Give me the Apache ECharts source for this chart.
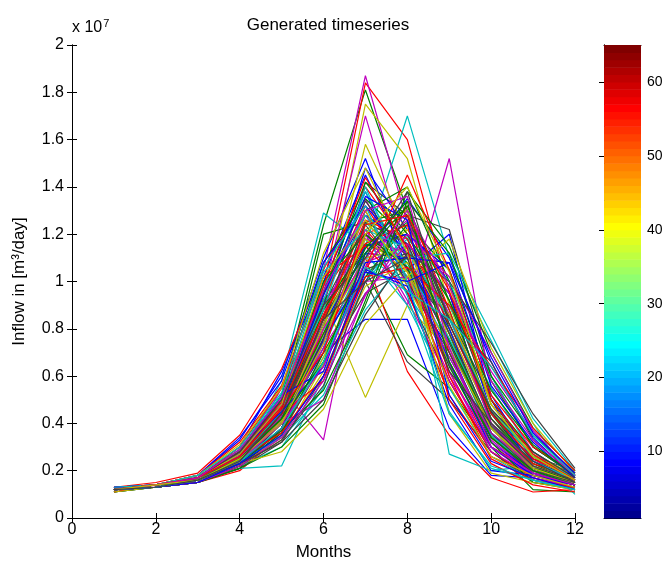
<!DOCTYPE html>
<html>
<head>
<meta charset="utf-8">
<script src="https://cdn.jsdelivr.net/npm/echarts@6/dist/echarts.min.js"></script>
<style>html,body{margin:0;padding:0;background:#fff;}#c{width:665px;height:562px;}</style>
</head>
<body>
<div id="c"></div>
<script>
// Months on the x axis
const months = [1,2,3,4,5,6,7,8,9,10,11,12];
// Inflow runs, values in units of 1e7 m3/day
const run01 = [0.12,0.14,0.17,0.30,0.62,1.02,1.45,1.10,0.75,0.38,0.24,0.15];
const run02 = [0.12,0.13,0.15,0.24,0.52,1.24,1.81,1.30,0.85,0.45,0.26,0.16];
const run03 = [0.13,0.14,0.18,0.26,0.50,0.98,1.84,1.60,0.95,0.40,0.22,0.14];
const run04 = [0.12,0.13,0.16,0.25,0.58,1.29,1.15,1.70,1.10,0.75,0.40,0.13];
const run05 = [0.12,0.14,0.16,0.28,0.55,1.05,1.87,1.25,0.80,0.42,0.25,0.15];
const run06 = [0.11,0.14,0.17,0.25,0.45,0.88,1.75,1.52,0.90,0.45,0.27,0.17];
const run07 = [0.12,0.13,0.16,0.22,0.40,0.80,1.42,1.28,1.22,0.60,0.30,0.18];
const run08 = [0.12,0.14,0.16,0.24,0.42,0.70,0.84,0.84,0.38,0.18,0.17,0.13];
const run09 = [0.11,0.13,0.15,0.22,0.38,0.75,1.05,0.69,0.55,0.30,0.12,0.11];
const run10 = [0.12,0.13,0.15,0.20,0.35,0.80,1.10,0.62,0.35,0.17,0.11,0.12];
const run11 = [0.12,0.14,0.16,0.21,0.22,0.60,1.00,1.20,0.27,0.20,0.22,0.12];
const run12 = [0.13,0.14,0.16,0.23,0.55,0.33,1.20,0.90,1.52,0.55,0.28,0.15];
const run13 = [0.12,0.13,0.16,0.23,0.40,0.93,0.51,0.90,0.70,0.35,0.22,0.14];
const run14 = [0.12,0.13,0.15,0.21,0.38,0.78,1.00,0.66,0.50,0.28,0.15,0.13];
const run15 = [0.12,0.14,0.18,0.33,0.60,1.10,1.52,1.05,1.20,0.50,0.20,0.16];
const run16 = [0.12,0.14,0.17,0.27,0.48,1.20,1.25,1.30,0.80,0.38,0.20,0.14];
const run17 = [0.13,0.15,0.19,0.35,0.63,1.05,1.40,1.15,0.78,0.35,0.20,0.12];
const run18 = [0.12,0.13,0.15,0.22,0.30,0.55,1.10,1.00,0.90,0.55,0.27,0.10];
const run19 = [0.12,0.14,0.17,0.28,0.50,0.95,1.70,1.10,0.70,0.30,0.20,0.14];
const run20 = [0.12,0.14,0.17,0.24,0.42,0.85,1.58,1.20,0.85,0.40,0.24,0.16];
const run21 = [0.12,0.13,0.16,0.23,0.38,0.72,1.20,1.02,0.86,0.50,0.25,0.19];
const run22 = [0.12,0.14,0.16,0.24,0.45,0.90,1.48,1.22,1.00,0.45,0.22,0.15];
const run23 = [0.11,0.13,0.15,0.23,0.40,0.85,1.30,1.40,1.00,0.50,0.28,0.17];
const run24 = [0.12,0.14,0.17,0.27,0.46,0.92,1.32,1.05,0.62,0.30,0.20,0.15];
const run25 = [0.12,0.14,0.16,0.25,0.36,0.78,1.25,1.08,0.65,0.30,0.18,0.13];
const run26 = [0.13,0.13,0.15,0.22,0.35,0.70,1.35,1.00,0.60,0.33,0.19,0.14];
const run27 = [0.12,0.14,0.16,0.22,0.33,0.65,1.15,1.10,0.80,0.42,0.23,0.17];
const run28 = [0.12,0.13,0.15,0.21,0.32,0.60,1.05,1.12,0.95,0.48,0.26,0.20];
const run29 = [0.12,0.14,0.17,0.28,0.48,1.00,1.38,0.98,0.72,0.32,0.19,0.14];
const run30 = [0.12,0.14,0.16,0.26,0.44,0.92,1.12,1.25,0.88,0.42,0.23,0.15];
const run31 = [0.12,0.13,0.16,0.24,0.42,0.88,1.20,1.28,0.70,0.34,0.21,0.16];
const run32 = [0.11,0.14,0.16,0.25,0.43,0.82,1.18,0.95,0.68,0.36,0.22,0.15];
const run33 = [0.12,0.14,0.16,0.24,0.40,0.76,1.08,1.15,0.72,0.38,0.20,0.14];
const run34 = [0.12,0.13,0.15,0.22,0.36,0.74,1.22,1.30,0.75,0.36,0.22,0.16];
const run35 = [0.12,0.14,0.16,0.23,0.40,0.82,1.30,0.95,0.58,0.28,0.16,0.13];
const run36 = [0.12,0.13,0.16,0.25,0.41,0.95,1.28,1.16,0.95,0.40,0.21,0.15];
const run37 = [0.13,0.14,0.17,0.29,0.52,1.08,1.35,1.18,0.78,0.34,0.20,0.14];
const run38 = [0.12,0.14,0.17,0.30,0.55,0.95,1.22,1.02,0.58,0.28,0.17,0.13];
const run39 = [0.12,0.13,0.15,0.23,0.38,0.68,1.02,1.18,1.00,0.60,0.30,0.18];
const run40 = [0.12,0.13,0.16,0.24,0.44,0.86,1.28,1.05,0.65,0.32,0.18,0.13];
const run41 = [0.12,0.13,0.16,0.22,0.35,0.68,1.08,1.22,0.98,0.48,0.26,0.18];
const run42 = [0.11,0.13,0.15,0.22,0.36,0.66,0.95,1.05,0.82,0.45,0.24,0.17];
const run43 = [0.12,0.14,0.17,0.26,0.46,0.82,1.12,1.10,0.80,0.36,0.18,0.14];
const run44 = [0.12,0.13,0.16,0.26,0.45,0.95,1.42,1.20,0.92,0.44,0.22,0.15];
const run45 = [0.12,0.14,0.17,0.28,0.47,0.78,1.05,1.32,0.88,0.40,0.23,0.17];
const run46 = [0.12,0.14,0.16,0.26,0.40,0.72,1.12,0.90,0.55,0.26,0.16,0.12];
const run47 = [0.13,0.14,0.17,0.27,0.48,0.90,1.18,1.12,0.62,0.28,0.18,0.15];
const run48 = [0.12,0.14,0.17,0.26,0.46,0.80,1.30,0.98,0.66,0.34,0.20,0.15];
const run49 = [0.12,0.14,0.16,0.24,0.42,0.84,1.15,1.20,0.85,0.42,0.21,0.16];
const run50 = [0.12,0.13,0.16,0.23,0.38,0.76,1.15,1.20,1.05,0.52,0.24,0.16];
const run51 = [0.12,0.14,0.16,0.25,0.43,0.88,1.16,1.08,0.75,0.38,0.21,0.16];
const run52 = [0.11,0.14,0.17,0.26,0.44,0.84,1.26,1.18,0.82,0.44,0.25,0.17];
const run53 = [0.12,0.13,0.16,0.25,0.45,0.98,1.28,1.02,0.74,0.35,0.20,0.14];
const run54 = [0.12,0.13,0.16,0.23,0.37,0.74,1.22,0.92,0.58,0.30,0.17,0.13];
const run55 = [0.12,0.13,0.16,0.24,0.40,0.78,1.10,1.14,0.78,0.38,0.21,0.15];
const run56 = [0.12,0.14,0.17,0.25,0.44,0.90,1.24,1.00,0.70,0.34,0.19,0.14];
const run57 = [0.13,0.14,0.18,0.34,0.58,1.08,1.32,1.12,0.66,0.30,0.18,0.14];
const run58 = [0.12,0.13,0.15,0.22,0.36,0.70,1.02,1.24,1.05,0.58,0.30,0.18];
const run59 = [0.12,0.14,0.18,0.32,0.56,1.02,1.15,0.96,0.52,0.26,0.18,0.14];
const run60 = [0.12,0.14,0.17,0.28,0.50,0.92,1.38,1.06,0.76,0.40,0.24,0.16];
const run61 = [0.12,0.14,0.16,0.25,0.43,0.80,1.10,1.26,0.86,0.40,0.22,0.16];
const run62 = [0.11,0.13,0.15,0.22,0.34,0.62,0.98,1.08,0.86,0.46,0.26,0.19];
const run63 = [0.12,0.14,0.17,0.26,0.46,0.96,1.34,1.10,0.74,0.36,0.20,0.15];
const run64 = [0.12,0.13,0.16,0.24,0.40,0.75,1.05,0.98,0.48,0.20,0.18,0.14];
const run65 = [0.12,0.14,0.17,0.28,0.50,1.00,1.20,1.06,0.64,0.32,0.15,0.12];
const run66 = [0.12,0.14,0.17,0.27,0.47,0.86,1.16,1.24,0.60,0.25,0.16,0.13];
const run67 = [0.13,0.14,0.17,0.27,0.50,1.04,1.22,1.14,0.84,0.46,0.26,0.17];
const run68 = [0.12,0.14,0.16,0.24,0.40,0.72,1.00,1.02,0.68,0.36,0.22,0.16];
const run69 = [0.12,0.14,0.16,0.25,0.41,0.82,1.18,1.04,0.72,0.38,0.22,0.16];
const run70 = [0.12,0.13,0.15,0.22,0.38,0.76,1.25,1.16,0.78,0.39,0.22,0.16];
const run71 = [0.12,0.14,0.17,0.27,0.52,0.62,1.12,1.35,1.10,0.66,0.34,0.17];
const run72 = [0.12,0.13,0.15,0.21,0.30,0.48,0.92,1.38,1.15,0.70,0.38,0.20];
const run73 = [0.12,0.14,0.16,0.24,0.44,0.58,1.06,1.45,1.05,0.52,0.30,0.19];
const run74 = [0.12,0.13,0.16,0.24,0.34,0.52,0.88,1.10,1.12,0.78,0.42,0.20];
const run75 = [0.12,0.14,0.17,0.26,0.40,0.50,0.95,1.16,0.95,0.62,0.36,0.18];
const run76 = [0.12,0.14,0.16,0.23,0.28,0.46,0.82,1.02,1.18,0.72,0.40,0.19];
const run77 = [0.12,0.13,0.15,0.22,0.33,0.56,1.00,1.28,0.84,0.66,0.33,0.18];
const run78 = [0.12,0.14,0.17,0.28,0.45,0.64,1.08,1.10,1.08,0.56,0.32,0.17];
const run79 = [0.12,0.13,0.16,0.23,0.37,0.54,0.90,1.34,1.12,0.60,0.35,0.19];
const run80 = [0.12,0.14,0.16,0.25,0.36,0.60,1.02,1.06,0.90,0.64,0.38,0.20];
const run81 = [0.12,0.14,0.17,0.29,0.52,0.88,1.40,1.00,0.45,0.21,0.16,0.12];
const run82 = [0.12,0.13,0.15,0.22,0.34,0.58,0.94,1.20,1.02,0.70,0.37,0.18];
const run83 = [0.12,0.14,0.18,0.31,0.55,1.12,1.48,1.12,0.44,0.19,0.15,0.12];
const run84 = [0.12,0.14,0.16,0.23,0.32,0.50,0.86,1.12,1.00,0.74,0.44,0.21];
const run85 = [0.12,0.14,0.17,0.27,0.48,0.94,1.36,1.26,0.52,0.24,0.17,0.12];
const run86 = [0.12,0.13,0.16,0.25,0.42,0.66,1.12,1.32,0.92,0.54,0.31,0.18];
const run87 = [0.12,0.14,0.17,0.28,0.49,0.98,1.44,1.14,0.50,0.23,0.14,0.11];
const run88 = [0.12,0.14,0.18,0.30,0.53,1.06,1.32,0.94,0.44,0.22,0.16,0.12];
const run89 = [0.12,0.13,0.16,0.24,0.40,0.64,1.06,1.30,0.98,0.58,0.33,0.18];
const run90 = [0.12,0.14,0.17,0.27,0.48,1.02,1.26,1.04,0.56,0.26,0.18,0.13];
const run91 = [0.12,0.14,0.17,0.28,0.50,0.90,1.10,1.38,0.82,0.46,0.28,0.17];
const run92 = [0.12,0.13,0.15,0.23,0.35,0.60,1.04,1.00,1.08,0.68,0.36,0.19];
const run93 = [0.12,0.14,0.16,0.25,0.42,0.78,1.14,1.34,0.66,0.34,0.20,0.14];
const run94 = [0.12,0.14,0.17,0.26,0.46,0.70,1.24,1.28,0.96,0.50,0.27,0.16];
const run95 = [0.12,0.13,0.16,0.24,0.38,0.66,1.06,0.96,0.84,0.64,0.35,0.18];
const run96 = [0.12,0.14,0.17,0.29,0.51,0.96,1.30,1.36,0.72,0.30,0.19,0.14];
const run97 = [0.12,0.14,0.16,0.25,0.40,0.74,1.20,1.40,1.04,0.48,0.26,0.16];
const run98 = [0.12,0.13,0.16,0.24,0.44,0.84,1.00,1.10,0.62,0.40,0.24,0.15];
// Axis tick labels
const yTicks = [0,0.2,0.4,0.6,0.8,1,1.2,1.4,1.6,1.8,2];
const xTicks = [0,2,4,6,8,10,12];
const cbarTicks = [10,20,30,40,50,60];
const cbarRange = [1,65];

const runs = [run01,run02,run03,run04,run05,run06,run07,run08,run09,run10,
  run11,run12,run13,run14,run15,run16,run17,run18,run19,run20,
  run21,run22,run23,run24,run25,run26,run27,run28,run29,run30,
  run31,run32,run33,run34,run35,run36,run37,run38,run39,run40,
  run41,run42,run43,run44,run45,run46,run47,run48,run49,run50,
  run51,run52,run53,run54,run55,run56,run57,run58,run59,run60,
  run61,run62,run63,run64,run65,run66,run67,run68,run69,run70,
  run71,run72,run73,run74,run75,run76,run77,run78,run79,run80,
  run81,run82,run83,run84,run85,run86,run87,run88,run89,run90,
  run91,run92,run93,run94,run95,run96,run97,run98];

const colorOrder = ['#0000ff','#008000','#ff0000','#00bfbf','#bf00bf','#bfbf00','#404040'];

function jet(n){
  const m = Math.ceil(n/4);
  const u = [];
  for (let k=1;k<=m;k++) u.push(k/m);
  for (let k=1;k<m;k++) u.push(1);
  for (let k=m;k>=1;k--) u.push(k/m);
  const g0 = Math.ceil(m/2) - (n%4===1?1:0);
  const R=new Array(n).fill(0),G=new Array(n).fill(0),B=new Array(n).fill(0);
  for (let j=0;j<u.length;j++){
    const gi=g0+j+1, ri=gi+m, bi=gi-m;
    if (gi>=1&&gi<=n) G[gi-1]=u[j];
    if (ri>=1&&ri<=n) R[ri-1]=u[j];
    if (bi>=1&&bi<=n) B[bi-1]=u[j];
  }
  const out=[];
  for (let i=0;i<n;i++) out.push('rgb('+Math.round(R[i]*255)+','+Math.round(G[i]*255)+','+Math.round(B[i]*255)+')');
  return out;
}
const nLevels = cbarRange[1]-cbarRange[0];
const jetColors = jet(nLevels);
const levels = [];
for (let i=0;i<nLevels;i++) levels.push([cbarRange[0]+i]);

const FONT = 'Liberation Sans, Arial, Helvetica, sans-serif';
const chart = echarts.init(document.getElementById('c'), null, {renderer:'canvas'});

const lineSeries = runs.map((r,i)=>({
  type:'line', xAxisIndex:0, yAxisIndex:0,
  data: months.map((m,j)=>[m, r[j]]),
  showSymbol:false, symbol:'none', silent:true, animation:false,
  lineStyle:{width:1.2, color:colorOrder[i%7]},
  itemStyle:{color:colorOrder[i%7]},
  z:2
}));

const tickStyle = {inside:true, length:5, lineStyle:{color:'#000', width:1}};
const lineAx = {lineStyle:{color:'#000', width:1}};

chart.setOption({
  backgroundColor:'#fff',
  animation:false,
  title:{text:'Generated timeseries', left:323, top:12, textAlign:'center',
    textStyle:{fontFamily:FONT, fontSize:17, fontWeight:'normal', color:'#000'}},
  grid:[
    {left:72, top:45, width:503, height:473, containLabel:false, outerBoundsMode:'none'},
    {left:604, top:45, width:37, height:473, containLabel:false, outerBoundsMode:'none'}
  ],
  xAxis:[
    {type:'value', gridIndex:0, min:0, max:12, interval:2, position:'bottom',
      name:'Months', nameLocation:'middle', nameGap:26,
      nameTextStyle:{fontFamily:FONT, fontSize:17, color:'#000'},
      axisLine:lineAx, axisTick:tickStyle, splitLine:{show:false},
      axisLabel:{fontFamily:FONT, fontSize:16, color:'#000', margin:4,
        customValues:xTicks}},
    {type:'value', gridIndex:0, min:0, max:12, interval:2, position:'top',
      axisLine:lineAx, axisTick:tickStyle, axisLabel:{show:false}, splitLine:{show:false}},
    {type:'value', gridIndex:1, min:0, max:1, position:'bottom',
      axisLine:lineAx, axisTick:{show:false}, axisLabel:{show:false}, splitLine:{show:false}},
    {type:'value', gridIndex:1, min:0, max:1, position:'top',
      axisLine:lineAx, axisTick:{show:false}, axisLabel:{show:false}, splitLine:{show:false}}
  ],
  yAxis:[
    {type:'value', gridIndex:0, min:0, max:2, interval:0.2, position:'left',
      name:'Inflow in [m³/day]', nameLocation:'middle', nameGap:44, nameRotate:90,
      nameTextStyle:{fontFamily:FONT, fontSize:17, color:'#000'},
      axisLine:lineAx, axisTick:tickStyle, splitLine:{show:false},
      axisLabel:{fontFamily:FONT, fontSize:16, color:'#000', margin:8,
        customValues:yTicks, formatter:v=>String(Math.round(v*10)/10)}},
    {type:'value', gridIndex:0, min:0, max:2, interval:0.2, position:'right',
      axisLine:lineAx, axisTick:tickStyle, axisLabel:{show:false}, splitLine:{show:false}},
    {type:'value', gridIndex:1, min:cbarRange[0], max:cbarRange[1], position:'right',
      axisLine:lineAx, splitLine:{show:false},
      axisTick:Object.assign({customValues:cbarTicks}, tickStyle),
      axisLabel:{fontFamily:FONT, fontSize:14, color:'#000', margin:6, customValues:cbarTicks}},
    {type:'value', gridIndex:1, min:cbarRange[0], max:cbarRange[1], position:'left',
      axisLine:lineAx, splitLine:{show:false},
      axisTick:Object.assign({customValues:cbarTicks}, tickStyle),
      axisLabel:{show:false}}
  ],
  graphic:[
    {type:'text', left:72, top:18, silent:true,
      style:{text:'x 10{s|7}', fontFamily:FONT, fontSize:16, fill:'#000',
        rich:{s:{fontFamily:FONT, fontSize:11, fill:'#000', verticalAlign:'top', padding:[0,0,9,1]}}}}
  ],
  series: lineSeries.concat([{
    type:'custom', xAxisIndex:2, yAxisIndex:2, data:levels, silent:true, z:1,
    renderItem:(params, api)=>{
      const v = api.value(0);
      const p1 = api.coord([0, v]);
      const p2 = api.coord([1, v+1]);
      return {type:'rect', shape:{x:p1[0], y:p2[1], width:p2[0]-p1[0], height:p1[1]-p2[1]+0.5},
        style:{fill:jetColors[v-cbarRange[0]]}};
    }
  }])
});
</script>
</body>
</html>
